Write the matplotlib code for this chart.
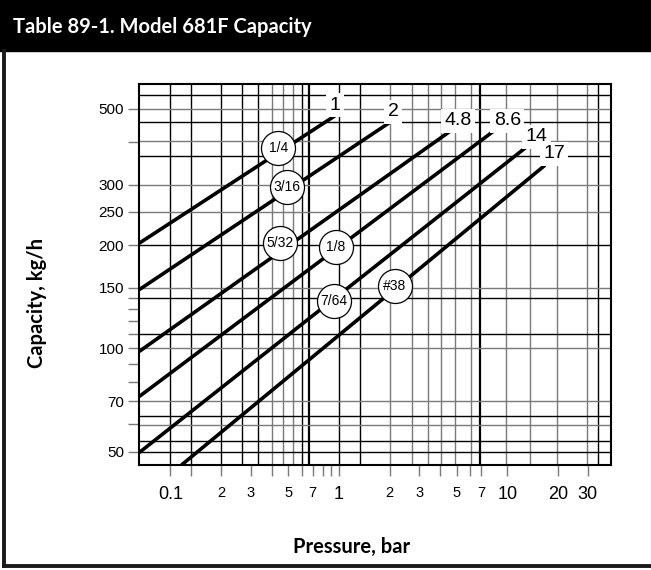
import matplotlib.pyplot as plt
from matplotlib.lines import Line2D
from matplotlib.patches import Rectangle
from matplotlib.ticker import FixedLocator, NullFormatter

# orifice sizes and the max pressure (bar) of each capacity line
orifices = ["1/4", "3/16", "5/32", "1/8", "7/64", "#38"]
max_pressure = ["1", "2", "4.8", "8.6", "14", "17"]

# line endpoints (pressure in bar, capacity in kg/h)
p_start = [0.0654, 0.0654, 0.0654, 0.0654, 0.0654, 0.1164]
cap_start = [202.7, 148.4, 98.0, 72.4, 49.7, 45.7]
p_end = [1.0, 1.99, 4.67, 8.43, 13.0, 16.7]
cap_end = [485, 455, 433, 433, 387, 342]

# where the circled orifice labels and pressure labels sit
orifice_x = [0.437, 0.494, 0.449, 0.961, 0.935, 2.15]
orifice_y = [385, 295, 202.6, 198, 137, 152]
plabel_x = [0.95, 2.1, 5.1, 10.0, 14.8, 18.9]
plabel_y = [512, 490, 461, 461, 414, 369]

# tick values
x_major = [0.1, 0.2, 0.3, 0.5, 0.7, 1, 2, 3, 5, 7, 10, 20, 30]
x_major_labels = ["0.1", "2", "3", "5", "7", "1", "2", "3", "5", "7", "10", "20", "30"]
x_minor = [0.133, 0.4, 0.6, 0.8, 0.9, 4, 6]
y_major = [50, 70, 100, 150, 200, 250, 300, 500]
y_minor = [60, 80, 90, 110, 120, 130, 140, 400]

# grid lines (value, dark?)
x_grid = [(0.1, True), (0.133, True), (0.2, True), (0.267, True), (0.333, True),
          (0.4, False), (0.467, False), (0.533, False), (0.6, True), (0.667, True),
          (1.0, True), (1.333, True), (2.0, False), (2.7, False), (3.37, False),
          (4.03, False), (4.89, False), (6.06, False), (6.87, True), (9.81, False),
          (13.7, False), (19.8, False), (29.8, False), (34.3, True)]
y_grid = [(548, True), (500, False), (456, True), (402, False), (365, True),
          (300, False), (250, False), (200, True), (150, False), (140, True),
          (110, True), (100, False), (70, False), (63.4, True), (59.6, False),
          (53.8, True), (50, True)]

plt.rcParams['font.family'] = ['Liberation Sans', 'DejaVu Sans']

fig = plt.figure(figsize=(6.51, 5.70), dpi=100)

# black header bar with title
fig.patches.append(Rectangle((0, 1 - 51 / 570), 1, 51 / 570, transform=fig.transFigure,
                             color="black", zorder=0))
fig.text(13 / 651, 1 - 27 / 570, "Table 89-1. Model 681F Capacity", color="white",
         fontsize=14.5, fontweight="bold", va="center", ha="left", family=["Lato", "DejaVu Sans"])

# frame around the panel
fig.lines.append(Line2D([4 / 651, 4 / 651], [1 - 566 / 570, 1 - 51 / 570],
                        transform=fig.transFigure, color="#1a1a1a", lw=2.8))
fig.lines.append(Line2D([4 / 651, 1], [1 - 566 / 570, 1 - 566 / 570],
                        transform=fig.transFigure, color="#1a1a1a", lw=2.8))

ax = fig.add_axes([139.3 / 651, 1 - 465 / 570, (610.7 - 139.3) / 651, (465 - 84.3) / 570])
ax.set_xscale("log")
ax.set_yscale("log")
ax.set_xlim(0.0654, 41.0)
ax.set_ylim(45.7, 589)

for v, dark in x_grid:
    ax.axvline(v, color="black" if dark else "#7a7a7a", lw=1.6 if v in (0.667, 6.87) else 1.0, zorder=1)
for v, dark in y_grid:
    ax.axhline(v, color="black" if dark else "#7a7a7a", lw=1.0, zorder=1)

for i in range(len(orifices)):
    ax.plot([p_start[i], p_end[i]], [cap_start[i], cap_end[i]], color="black", lw=2.6,
            solid_capstyle="butt", zorder=3)

# pressure labels with white patch
for i in range(len(max_pressure)):
    ax.text(plabel_x[i], plabel_y[i], max_pressure[i], fontsize=14, ha="center", va="center",
            zorder=4, bbox=dict(boxstyle="square,pad=0.18", fc="white", ec="none"))

# circled orifice labels
ax.scatter(orifice_x, orifice_y, s=600, facecolor="white", edgecolor="black", lw=0.9, zorder=5)
for i in range(len(orifices)):
    ax.text(orifice_x[i], orifice_y[i], orifices[i], fontsize=10, ha="center", va="center",
            zorder=6, family=["Liberation Sans Narrow", "Liberation Sans", "DejaVu Sans"])

ax.xaxis.set_major_locator(FixedLocator(x_major))
ax.set_xticklabels(x_major_labels)
ax.xaxis.set_minor_locator(FixedLocator(x_minor))
ax.xaxis.set_minor_formatter(NullFormatter())
ax.yaxis.set_major_locator(FixedLocator(y_major))
ax.set_yticklabels([str(v) for v in y_major])
ax.yaxis.set_minor_locator(FixedLocator(y_minor))
ax.yaxis.set_minor_formatter(NullFormatter())

ax.tick_params(which="both", direction="out", length=8, width=1, color="#7a7a7a")
ax.tick_params(axis="x", which="major", labelsize=13, pad=7)
ax.tick_params(axis="y", which="major", labelsize=11, pad=3)
for lab in ax.get_xticklabels():
    if lab.get_text() in ("2", "3", "5", "7"):
        lab.set_fontsize(10.5)

for sp in ax.spines.values():
    sp.set_linewidth(1.5)
    sp.set_zorder(7)

fig.text(352 / 651, 1 - 547 / 570, "Pressure, bar", fontsize=14.5, fontweight="bold",
         ha="center", va="center", family=["Lato", "DejaVu Sans"])
fig.text(37 / 651, 1 - 303 / 570, "Capacity, kg/h", fontsize=14.5, fontweight="bold",
         ha="center", va="center", rotation=90, family=["Lato", "DejaVu Sans"])

fig.savefig("out.png", dpi=100)
